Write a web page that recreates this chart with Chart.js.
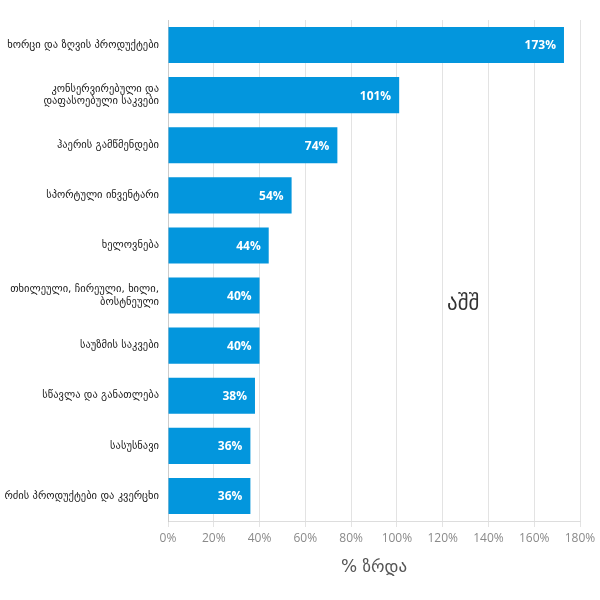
<!DOCTYPE html>
<html>
<head>
<meta charset="utf-8">
<script src="https://cdn.jsdelivr.net/npm/chart.js@4"></script>
<style>
  html, body { margin: 0; padding: 0; background: #ffffff; }
  #wrap { width: 600px; height: 600px; }
</style>
</head>
<body>
<div id="wrap"><canvas id="growthChart"></canvas></div>
<script>
// კატეგორიები და ზრდა (%)
const categories = [
    "ხორცი და ზღვის პროდუქტები",
    ["კონსერვირებული და", "დაფასოებული საკვები"],
    "ჰაერის გამწმენდები",
    "სპორტული ინვენტარი",
    "ხელოვნება",
    ["თხილეული, ჩირეული, ხილი,", "ბოსტნეული"],
    "საუზმის საკვები",
    "სწავლა და განათლება",
    "სასუსნავი",
    "რძის პროდუქტები და კვერცხი"
];
const growthValues = [173, 101, 74, 54, 44, 40, 40, 38, 36, 36];
const regionLabel = "აშშ";
const axisTitle = "% ზრდა";

// ბარის შიგნით მნიშვნელობები
const valueLabels = {
    id: 'valueLabels',
    afterDatasetsDraw(chart) {
        const c = chart.ctx;
        const meta = chart.getDatasetMeta(0);
        c.save();
        c.fillStyle = '#ffffff';
        c.font = 'bold 12px "Open Sans", sans-serif';
        c.textAlign = 'right';
        c.textBaseline = 'middle';
        meta.data.forEach(function(bar, i) {
            c.fillText(growthValues[i] + '%', bar.x - 8, bar.y + 1);
        });
        c.restore();
    }
};

// ქვეყნის წარწერა
const regionText = {
    id: 'regionText',
    afterDraw(chart) {
        const c = chart.ctx;
        const x = chart.scales.x.getPixelForValue(129);
        const y = chart.scales.y.getPixelForValue(5.18);
        c.save();
        c.fillStyle = '#333333';
        c.font = '21px "DejaVu Sans", sans-serif';
        c.textAlign = 'center';
        c.textBaseline = 'middle';
        c.fillText(regionLabel, x, y);
        c.restore();
    }
};

const ctx = document.getElementById('growthChart').getContext('2d');
const growthChart = new Chart(ctx, {
    type: 'bar',
    data: {
        labels: categories,
        datasets: [{
            data: growthValues,
            backgroundColor: '#0396dd',
            borderWidth: 0,
            categoryPercentage: 1.0,
            barPercentage: 0.72
        }]
    },
    options: {
        indexAxis: 'y',
        responsive: true,
        maintainAspectRatio: false,
        animation: false,
        layout: {
            padding: { top: 20, right: 20, bottom: 18, left: 0 }
        },
        plugins: {
            legend: { display: false },
            tooltip: { enabled: false }
        },
        scales: {
            x: {
                min: 0,
                max: 180,
                ticks: {
                    stepSize: 20,
                    color: '#8a8a8a',
                    padding: 4,
                    font: { family: 'Open Sans', size: 12 },
                    callback: function(v) { return v + '%'; }
                },
                grid: {
                    color: '#e3e3e3',
                    tickLength: 6
                },
                border: { color: '#dddddd' },
                title: {
                    display: true,
                    text: axisTitle,
                    color: '#555555',
                    padding: { top: 8 },
                    font: { family: 'DejaVu Sans', size: 17 }
                },
                afterFit: function(scale) { scale.height = 61; }
            },
            y: {
                ticks: {
                    color: '#1a1a1a',
                    padding: 1,
                    font: { family: 'DejaVu Sans', size: 10.5 }
                },
                grid: { display: false },
                border: { color: '#cccccc' },
                afterFit: function(scale) { scale.width = 168; }
            }
        }
    },
    plugins: [valueLabels, regionText]
});
</script>
</body>
</html>
